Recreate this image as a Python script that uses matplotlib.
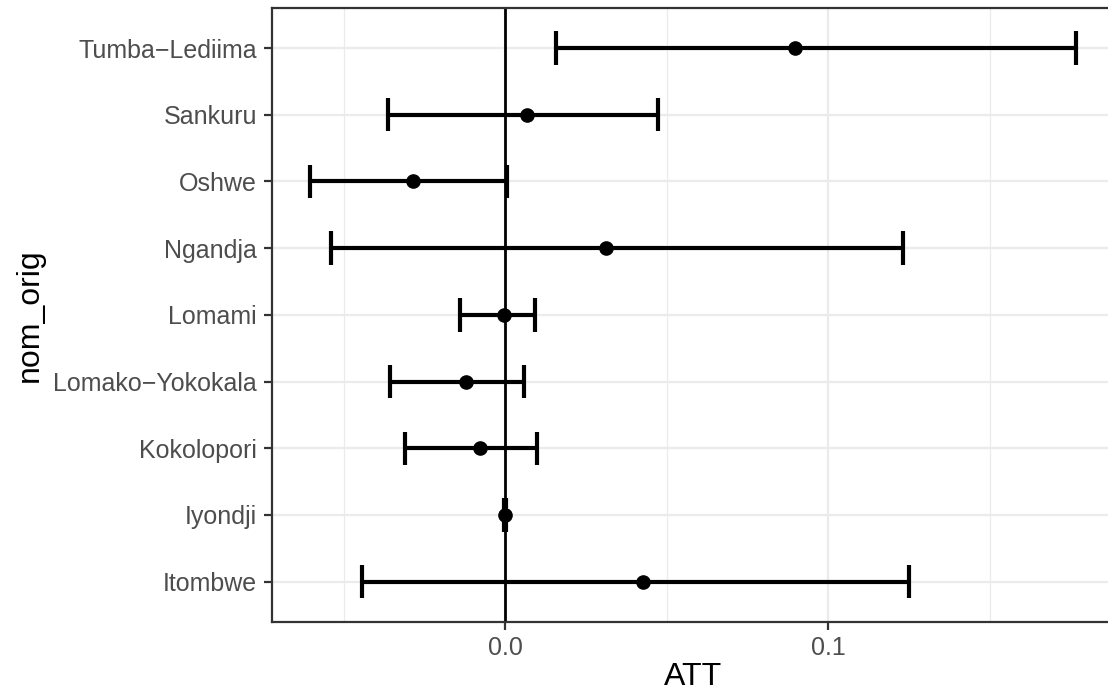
import matplotlib
matplotlib.use('Agg')
import matplotlib.pyplot as plt
from matplotlib.ticker import FixedLocator

# ATT estimates with confidence bounds per site (bottom to top)
sites = ['Itombwe', 'Iyondji', 'Kokolopori', 'Lomako\u2212Yokokala', 'Lomami',
         'Ngandja', 'Oshwe', 'Sankuru', 'Tumba\u2212Lediima']
att = [0.0425, 0.0000, -0.0079, -0.0122, -0.0005, 0.0311, -0.0286, 0.0067, 0.0895]
att_lo = [-0.0444, -0.0003, -0.0312, -0.0358, -0.0142, -0.0540, -0.0605, -0.0363, 0.0158]
att_hi = [0.1248, 0.0003, 0.0099, 0.0057, 0.0093, 0.1230, 0.0005, 0.0471, 0.1765]

plt.rcParams['font.family'] = ['Liberation Sans', 'DejaVu Sans']

fig = plt.figure(figsize=(11.08, 6.99), dpi=100)
W, H = 1108, 699
left, right, top, bottom = 271.5, 1114, 8, 621.7
ax = fig.add_axes([left / W, 1 - bottom / H, (right - left) / W, (bottom - top) / H])

ypos = list(range(1, len(sites) + 1))

# grid lines (theme_bw look)
ax.set_axisbelow(True)
ax.xaxis.set_major_locator(FixedLocator([0.0, 0.1]))
ax.xaxis.set_minor_locator(FixedLocator([-0.05, 0.05, 0.15]))
ax.grid(which='major', color='#EBEBEB', linewidth=1.6)
ax.grid(which='minor', axis='x', color='#EBEBEB', linewidth=0.9)

# reference line at zero
ax.axvline(0, color='black', linewidth=2.0, zorder=2)

# error bars with caps of half-width 0.25 category units
ax.hlines(ypos, att_lo, att_hi, color='black', linewidth=3.0, zorder=3)
caps_y0 = [y - 0.25 for y in ypos]
caps_y1 = [y + 0.25 for y in ypos]
ax.vlines(att_lo, caps_y0, caps_y1, color='black', linewidth=3.0, zorder=3)
ax.vlines(att_hi, caps_y0, caps_y1, color='black', linewidth=3.0, zorder=3)
ax.plot(att, ypos, 'o', color='black', markersize=9.5, zorder=4)

ax.set_xlim(-0.0724, 0.1884)
ax.set_ylim(0.4, len(sites) + 0.6)
ax.set_yticks(ypos)
ax.set_yticklabels(sites)
ax.set_xticklabels(['0.0', '0.1'])

ax.tick_params(which='major', length=6, width=1.6, color='#333333',
               labelcolor='#4D4D4D', labelsize=18, pad=4.5)
ax.tick_params(which='minor', length=0)
for s in ax.spines.values():
    s.set_color('#333333')
    s.set_linewidth(1.6)

ax.set_xlabel('ATT', fontsize=23, labelpad=1)
ax.set_ylabel('nom_orig', fontsize=23, labelpad=6)

fig.savefig('out.png', dpi=100)
